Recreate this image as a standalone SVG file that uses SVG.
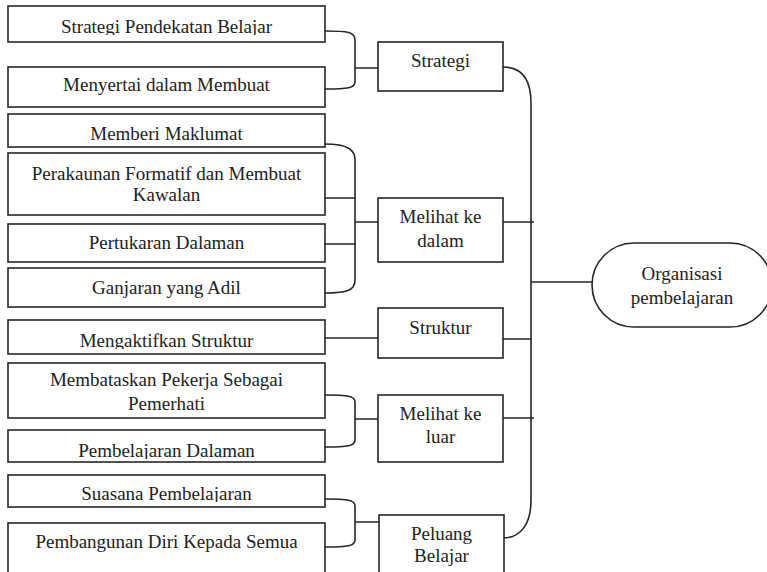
<svg xmlns="http://www.w3.org/2000/svg" width="767" height="572" viewBox="0 0 767 572">
<style>
.b{fill:#fff;stroke:#262626;stroke-width:1.6}
.t{font-family:'Liberation Serif','Times New Roman',serif;font-size:19px;fill:#222;text-anchor:middle}
.c{fill:none;stroke:#262626;stroke-width:1.6}
</style>
<defs>
<clipPath id="k1"><rect x="8" y="6" width="317" height="29"/></clipPath>
<clipPath id="k7"><rect x="8" y="320" width="317" height="29"/></clipPath>
<clipPath id="k9"><rect x="8" y="430" width="317" height="29"/></clipPath>
<clipPath id="k10"><rect x="8" y="475" width="317" height="27"/></clipPath>
</defs>
<rect width="767" height="572" fill="#fff"/>
<g id="connectors">
<path class="c" d="M325,31 C348,31 355,32 355,40 L355,82 C355,88 348,89 325,89 M355,68 L378,68"/>
<path class="c" d="M325,144 C348,144 355,150 355,160 L355,280 C355,290 348,293 325,293 M325,198 L355,198 M325,244 L355,244 M355,222 L378,222"/>
<path class="c" d="M325,338 L378,338"/>
<path class="c" d="M325,395 C348,395 355,396 355,402 L355,440 C355,446 348,447 325,447 M355,419 L378,419"/>
<path class="c" d="M325,499 C348,499 355,500 355,506 L355,540 C355,546 348,547 325,547 M355,522 L379,522"/>
<path class="c" d="M503,67 C522,67 531,80 531,103 L531,500 C531,525 520,538 503,538"/>
<path class="c" d="M503,222 L534,222 M503,339 L531,339 M503,418 L534,418 M531,282 L592,282"/>
</g>
<g id="n1"><rect class="b" x="8" y="6" width="317" height="36"/><text class="t" x="166.5" y="33" clip-path="url(#k1)">Strategi Pendekatan Belajar</text></g>
<g id="n2"><rect class="b" x="8" y="67" width="317" height="40"/><text class="t" x="166.5" y="91">Menyertai dalam Membuat</text></g>
<g id="n3"><rect class="b" x="8" y="114" width="317" height="33"/><text class="t" x="166.5" y="140">Memberi Maklumat</text></g>
<g id="n4"><rect class="b" x="8" y="153" width="317" height="62"/><text class="t" x="166.5" y="180">Perakaunan Formatif dan Membuat</text><text class="t" x="166.5" y="201">Kawalan</text></g>
<g id="n5"><rect class="b" x="8" y="224" width="317" height="38"/><text class="t" x="166.5" y="249">Pertukaran Dalaman</text></g>
<g id="n6"><rect class="b" x="8" y="268" width="317" height="39"/><text class="t" x="166.5" y="294">Ganjaran yang Adil</text></g>
<g id="n7"><rect class="b" x="8" y="320" width="317" height="34"/><text class="t" x="166.5" y="347" clip-path="url(#k7)">Mengaktifkan Struktur</text></g>
<g id="n8"><rect class="b" x="8" y="363" width="317" height="55"/><text class="t" x="166.5" y="386">Membataskan Pekerja Sebagai</text><text class="t" x="166.5" y="410">Pemerhati</text></g>
<g id="n9"><rect class="b" x="8" y="430" width="317" height="32"/><text class="t" x="166.5" y="457" clip-path="url(#k9)">Pembelajaran Dalaman</text></g>
<g id="n10"><rect class="b" x="8" y="475" width="317" height="32"/><text class="t" x="166.5" y="500" clip-path="url(#k10)">Suasana Pembelajaran</text></g>
<g id="n11"><rect class="b" x="8" y="523" width="317" height="60"/><text class="t" x="166.5" y="548">Pembangunan Diri Kepada Semua</text></g>
<g id="s1"><rect class="b" x="378" y="42" width="125" height="49"/><text class="t" x="440.5" y="67">Strategi</text></g>
<g id="s2"><rect class="b" x="378" y="198" width="125" height="64"/><text class="t" x="440.5" y="223">Melihat ke</text><text class="t" x="440.5" y="247">dalam</text></g>
<g id="s3"><rect class="b" x="378" y="308" width="125" height="50"/><text class="t" x="440.5" y="334">Struktur</text></g>
<g id="s4"><rect class="b" x="378" y="395" width="125" height="67"/><text class="t" x="440.5" y="420">Melihat ke</text><text class="t" x="440.5" y="443">luar</text></g>
<g id="s5"><rect class="b" x="379" y="515" width="125" height="70"/><text class="t" x="441.5" y="540">Peluang</text><text class="t" x="441.5" y="562">Belajar</text></g>
<g id="root"><rect class="b" x="592" y="243" width="180" height="84" rx="42" ry="42"/><text class="t" x="682" y="280">Organisasi</text><text class="t" x="682" y="304">pembelajaran</text></g>
</svg>
